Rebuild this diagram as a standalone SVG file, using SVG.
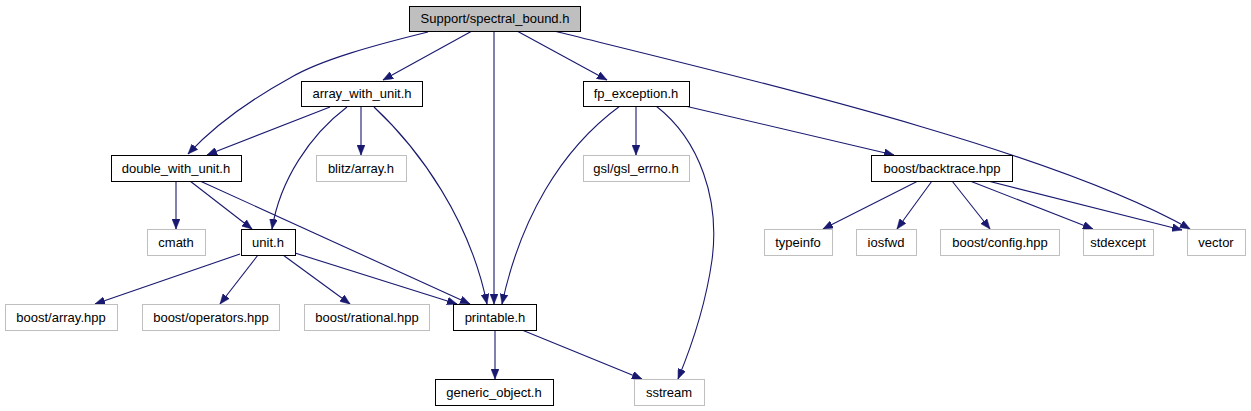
<svg xmlns="http://www.w3.org/2000/svg" width="1251" height="411" viewBox="0 0 1251 411">
<style>
  .n rect { fill: #ffffff; stroke: #000000; stroke-width: 1; }
  .u rect { fill: #ffffff; stroke: #bfbfbf; stroke-width: 1; }
  .root rect { fill: #bfbfbf; stroke: #000000; stroke-width: 1; }
  text { font-family: "Liberation Sans", Arial, Helvetica, sans-serif; font-size: 13px; fill: #000000; text-anchor: middle; }
  .e path { fill: none; stroke: #191970; stroke-width: 1.1; marker-end: url(#ah); }
</style>
<defs>
  <marker id="ah" markerUnits="userSpaceOnUse" markerWidth="11" markerHeight="8" refX="10" refY="4" orient="auto">
    <path d="M0,0 L10,4 L0,8 z" fill="#191970" stroke="#191970" stroke-width="0.5"/>
  </marker>
</defs>
<rect width="1251" height="411" fill="#ffffff"/>
<g id="edges" class="e">
  <path d="M428,32 C375,45 320,60 290,78 C250,100 215,125 188,154"/>
  <path d="M472,31 L383,80"/>
  <path d="M494,31 L494,304"/>
  <path d="M517,31 L607,80"/>
  <path d="M554,31 C760,82 1050,150 1190,229"/>
  <path d="M685,106 L894,155"/>
  <path d="M636,106 L636,155"/>
  <path d="M620,106 C560,150 520,220 502,304"/>
  <path d="M656,106 C700,140 720,200 712,260 C705,310 690,350 678,379"/>
  <path d="M330,107 L207,155"/>
  <path d="M347,107 C310,135 280,180 272,229"/>
  <path d="M361,107 L361,155"/>
  <path d="M374,107 C420,150 470,220 487,304"/>
  <path d="M176,181 L176,229"/>
  <path d="M190,181 L252,229"/>
  <path d="M200,181 L470,304"/>
  <path d="M240,254 L95,304"/>
  <path d="M258,255 L220,304"/>
  <path d="M283,255 L350,304"/>
  <path d="M295,253 L457,304"/>
  <path d="M495,330 L495,379"/>
  <path d="M522,330 L642,379"/>
  <path d="M918,181 L823,229"/>
  <path d="M932,181 L897,229"/>
  <path d="M952,181 L990,229"/>
  <path d="M970,181 L1093,229"/>
  <path d="M988,181 L1182,230"/>
</g>
<g id="node_root" class="root"><rect x="409.5" y="6.5" width="171" height="25"/><text x="495" y="23">Support/spectral_bound.h</text></g>
<g id="node_array_with_unit" class="n"><rect x="301.5" y="81.5" width="121" height="25"/><text x="362" y="98">array_with_unit.h</text></g>
<g id="node_fp_exception" class="n"><rect x="583.5" y="81.5" width="106" height="25"/><text x="636" y="98">fp_exception.h</text></g>
<g id="node_double_with_unit" class="n"><rect x="111.5" y="155.5" width="130" height="26"/><text x="176" y="173">double_with_unit.h</text></g>
<g id="node_blitz" class="u"><rect x="316.5" y="155.5" width="90" height="26"/><text x="361" y="173">blitz/array.h</text></g>
<g id="node_gsl" class="u"><rect x="583.5" y="155.5" width="106" height="26"/><text x="636" y="173">gsl/gsl_errno.h</text></g>
<g id="node_backtrace" class="n"><rect x="871.5" y="155.5" width="141" height="26"/><text x="942" y="173">boost/backtrace.hpp</text></g>
<g id="node_cmath" class="u"><rect x="147.5" y="229.5" width="58" height="26"/><text x="176" y="247">cmath</text></g>
<g id="node_unit" class="n"><rect x="241.5" y="229.5" width="54" height="26"/><text x="268" y="247">unit.h</text></g>
<g id="node_typeinfo" class="u"><rect x="764.5" y="229.5" width="68" height="26"/><text x="798" y="247">typeinfo</text></g>
<g id="node_iosfwd" class="u"><rect x="856.5" y="229.5" width="60" height="26"/><text x="886" y="247">iosfwd</text></g>
<g id="node_config" class="u"><rect x="940.5" y="229.5" width="119" height="26"/><text x="1000" y="247">boost/config.hpp</text></g>
<g id="node_stdexcept" class="u"><rect x="1083.5" y="229.5" width="70" height="26"/><text x="1118" y="247">stdexcept</text></g>
<g id="node_vector" class="u"><rect x="1187.5" y="229.5" width="58" height="26"/><text x="1216" y="247">vector</text></g>
<g id="node_boost_array" class="u"><rect x="5.5" y="304.5" width="112" height="26"/><text x="61" y="322">boost/array.hpp</text></g>
<g id="node_operators" class="u"><rect x="142.5" y="304.5" width="137" height="26"/><text x="211" y="322">boost/operators.hpp</text></g>
<g id="node_rational" class="u"><rect x="304.5" y="304.5" width="125" height="26"/><text x="367" y="322">boost/rational.hpp</text></g>
<g id="node_printable" class="n"><rect x="453.5" y="304.5" width="83" height="26"/><text x="495" y="322">printable.h</text></g>
<g id="node_generic_object" class="n"><rect x="435.5" y="379.5" width="118" height="26"/><text x="494" y="397">generic_object.h</text></g>
<g id="node_sstream" class="u"><rect x="634.5" y="379.5" width="70" height="26"/><text x="669" y="397">sstream</text></g>
</svg>
